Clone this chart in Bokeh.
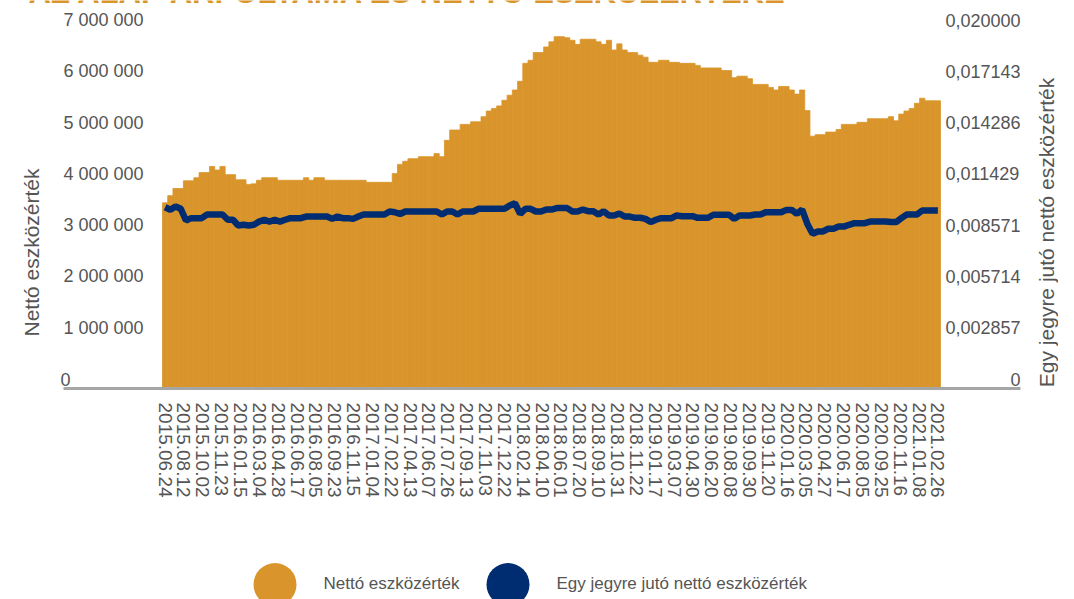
from math import pi
from bokeh.plotting import figure
from bokeh.models import Range1d, LinearAxis, FixedTicker, Label
from bokeh.layouts import column
from bokeh.embed import file_html
from bokeh.resources import INLINE
from bokeh.core.properties import value

# ---------------- data ----------------
date_labels = [
    "2015.06.24", "2015.08.12", "2015.10.02", "2015.11.23", "2016.01.15", "2016.03.04",
    "2016.04.28", "2016.06.17", "2016.08.05", "2016.09.23", "2016.11.15", "2017.01.04",
    "2017.02.22", "2017.04.13", "2017.06.07", "2017.07.26", "2017.09.13", "2017.11.03",
    "2017.12.22", "2018.02.14", "2018.04.10", "2018.06.01", "2018.07.20", "2018.09.10",
    "2018.10.31", "2018.11.22", "2019.01.17", "2019.03.07", "2019.04.30", "2019.06.20",
    "2019.08.08", "2019.09.30", "2019.11.20", "2020.01.16", "2020.03.05", "2020.04.27",
    "2020.06.17", "2020.08.05", "2020.09.25", "2020.11.16", "2021.01.08", "2021.02.26",
]

# Nettó eszközérték, millions
net_assets_m = [
    3.62, 3.76, 3.90, 3.90, 4.05, 4.05, 4.11, 4.21, 4.21, 4.33,
    4.26, 4.33, 4.17, 4.17, 4.07, 4.07, 3.98, 3.99, 4.06, 4.11,
    4.11, 4.11, 4.06, 4.06, 4.06, 4.06, 4.06, 4.11, 4.06, 4.11,
    4.11, 4.06, 4.06, 4.06, 4.06, 4.06, 4.06, 4.06, 4.06, 4.02,
    4.02, 4.02, 4.02, 4.02, 4.19, 4.37, 4.43, 4.48, 4.48,
    4.52, 4.52, 4.52, 4.58, 4.52, 4.84, 5.04, 5.04, 5.15, 5.15,
    5.20, 5.20, 5.30, 5.41, 5.46, 5.51, 5.62, 5.72, 5.82, 5.99,
    6.34, 6.40, 6.55, 6.55, 6.66, 6.76, 6.86, 6.86, 6.84, 6.79,
    6.71, 6.81, 6.81, 6.81, 6.76, 6.71, 6.79, 6.60, 6.72, 6.60,
    6.55, 6.55, 6.50, 6.46, 6.36, 6.36, 6.40, 6.40, 6.36, 6.36,
    6.34, 6.34, 6.34, 6.30, 6.25, 6.25, 6.25, 6.25, 6.20, 6.20,
    6.06, 6.09, 6.09, 6.04, 5.93, 5.93, 5.93, 5.87, 5.82, 5.89,
    5.89, 5.82, 5.74, 5.82, 5.42, 4.92, 4.95, 4.95, 5.00, 5.00,
    5.05, 5.15, 5.15, 5.15, 5.19, 5.19, 5.26, 5.26, 5.26, 5.26,
    5.30, 5.22, 5.35, 5.41, 5.46, 5.56, 5.66, 5.61, 5.61, 5.61,
]
net_assets = [v * 1_000_000 for v in net_assets_m]

# Egy jegyre jutó nettó eszközérték
unit_price = [
    0.01010, 0.00996, 0.01014, 0.01001, 0.00936, 0.00949, 0.00949, 0.00949, 0.00969, 0.00969,
    0.00969, 0.00969, 0.00940, 0.00940, 0.00908, 0.00912, 0.00908, 0.00912, 0.00930, 0.00940,
    0.00930, 0.00940, 0.00930, 0.00940, 0.00949, 0.00949, 0.00949, 0.00958, 0.00958, 0.00958,
    0.00958, 0.00958, 0.00945, 0.00958, 0.00949, 0.00949, 0.00945, 0.00958, 0.00969, 0.00969,
    0.00969, 0.00969, 0.00969, 0.00986, 0.00982, 0.00972, 0.00986, 0.00986, 0.00986,
    0.00986, 0.00986, 0.00986, 0.00986, 0.00969, 0.00986, 0.00986, 0.00969, 0.00986, 0.00986,
    0.00986, 0.01001, 0.01001, 0.01001, 0.01001, 0.01001, 0.01001, 0.01019, 0.01032, 0.00973,
    0.01001, 0.01001, 0.00986, 0.00986, 0.00997, 0.00997, 0.01005, 0.01005, 0.01005, 0.00986,
    0.00986, 0.00997, 0.00988, 0.00988, 0.00969, 0.00988, 0.00964, 0.00964, 0.00975, 0.00958,
    0.00958, 0.00951, 0.00951, 0.00945, 0.00927, 0.00940, 0.00949, 0.00949, 0.00949, 0.00964,
    0.00960, 0.00960, 0.00960, 0.00951, 0.00951, 0.00951, 0.00968, 0.00968, 0.00968, 0.00968,
    0.00945, 0.00964, 0.00964, 0.00964, 0.00969, 0.00969, 0.00982, 0.00982, 0.00982, 0.00982,
    0.00995, 0.00995, 0.00973, 0.00997, 0.00917, 0.00862, 0.00875, 0.00875, 0.00890, 0.00890,
    0.00902, 0.00902, 0.00912, 0.00921, 0.00921, 0.00921, 0.00930, 0.00930, 0.00930, 0.00930,
    0.00927, 0.00927, 0.00949, 0.00969, 0.00969, 0.00969, 0.00992, 0.00992, 0.00992, 0.00992,
]

left_tick_labels = ["0", "1 000 000", "2 000 000", "3 000 000", "4 000 000",
                    "5 000 000", "6 000 000", "7 000 000"]
right_tick_labels = ["0", "0,002857", "0,005714", "0,008571", "0,011429",
                     "0,014286", "0,017143", "0,020000"]
left_max = 7_000_000
right_max = 0.02

title_text = "AZ ALAP ÁRFOLYAMA ÉS NETTÓ ESZKÖZÉRTÉKE"
left_title = "Nettó eszközérték"
right_title = "Egy jegyre jutó nettó eszközérték"

# ---------------- styling / layout (page pixels) ----------------
ORANGE = "#D9952B"
NAVY = "#002D72"
TXT = "#555555"
AXIS_GRAY = "#A6A6A6"
FONT = "Liberation Sans"

W = 1058
H1 = 500
H2 = 99
FRAME_H = 388                 # zero line
BARS_L, BARS_R = 162, 940     # horizontal extent of the bar block
AXIS_L, AXIS_R = 63, 1020     # extent of the grey category axis line
TOP_VAL_PX = 359              # px from zero line to the top tick
LABEL_LIFT_PX = 9.5           # tick labels sit above their grid line

N = len(net_assets)
idx = list(range(N))
px_per_unit = (BARS_R - BARS_L) / N
x_start = -0.5 - BARS_L / px_per_unit
x_end = N - 0.5 + (W - BARS_R) / px_per_unit

n_steps = len(left_tick_labels) - 1
scale = FRAME_H / TOP_VAL_PX
lift = LABEL_LIFT_PX / TOP_VAL_PX * n_steps

p = figure(width=W, height=H1,
           x_range=Range1d(x_start, x_end),
           y_range=Range1d(0, left_max * scale),
           output_backend="svg", toolbar_location=None,
           x_axis_location=None, y_axis_location=None,
           min_border_left=0, min_border_right=0,
           min_border_top=0, min_border_bottom=H1 - FRAME_H)
p.outline_line_color = None
p.grid.visible = False
p.background_fill_color = "white"
p.border_fill_color = "white"

nL = len(date_labels)
lab_factor = (nL - 1) / (N - 1)
p.extra_x_ranges = {"xlab": Range1d(x_start * lab_factor, x_end * lab_factor)}
p.extra_y_ranges = {
    "price": Range1d(0, right_max * scale),
    "ylab": Range1d(-lift, n_steps * scale - lift),
}

# bars (net asset value) and line (unit price)
p.vbar(x=idx, top=net_assets, bottom=0, width=1.0,
       fill_color=ORANGE, line_color=ORANGE, line_width=0.8)
p.line(x=idx, y=unit_price, y_range_name="price",
       line_color=NAVY, line_width=6.5)

# category (date) axis
ax_l = (x_start + AXIS_L / px_per_unit) * lab_factor
ax_r = (x_start + AXIS_R / px_per_unit) * lab_factor
xaxis = LinearAxis(x_range_name="xlab", bounds=(ax_l, ax_r),
                   ticker=FixedTicker(ticks=list(range(nL)), minor_ticks=[]),
                   major_label_overrides={k: s for k, s in enumerate(date_labels)},
                   major_label_orientation="vertical")
xaxis.axis_line_color = AXIS_GRAY
xaxis.axis_line_width = 3
xaxis.major_tick_line_color = None
xaxis.minor_tick_line_color = None
xaxis.major_label_standoff = 8
xaxis.major_label_text_font = FONT
xaxis.major_label_text_font_size = "19px"
xaxis.major_label_text_color = TXT
p.add_layout(xaxis, "below")

def value_axis(labels, ticks, loc, standoff):
    ax = LinearAxis(y_range_name="ylab", fixed_location=loc,
                    ticker=FixedTicker(ticks=ticks, minor_ticks=[]),
                    major_label_overrides={k: labels[k] for k in ticks})
    ax.axis_line_color = None
    ax.major_tick_line_color = None
    ax.minor_tick_line_color = None
    ax.major_tick_out = 0
    ax.major_label_standoff = standoff
    ax.major_label_text_font = FONT
    ax.major_label_text_font_size = "18px"
    ax.major_label_text_color = TXT
    return ax

nonzero = list(range(1, len(left_tick_labels)))
# left labels are left-aligned at the axis-line start, right labels right-aligned
p.add_layout(value_axis(left_tick_labels, nonzero, -0.5, 19), "left")
p.add_layout(value_axis(left_tick_labels, [0], -0.5, 92), "left")
p.add_layout(value_axis(right_tick_labels, nonzero, N - 0.5, 5), "right")
p.add_layout(value_axis(right_tick_labels, [0], N - 0.5, 70), "right")

# titles (screen units relative to the frame: x from left, y from zero line)
p.add_layout(Label(x=28, y=FRAME_H + 8, x_units="screen", y_units="screen",
                   text=title_text, text_font=FONT, text_font_style="bold",
                   text_font_size="31px", text_color=ORANGE,
                   text_align="left", text_baseline="alphabetic"))
p.add_layout(Label(x=31, y=FRAME_H - 252, x_units="screen", y_units="screen",
                   text=left_title, angle=pi / 2, text_font=FONT,
                   text_font_size="21px", text_color=TXT,
                   text_align="center", text_baseline="middle"))
p.add_layout(Label(x=1046, y=FRAME_H - 232, x_units="screen", y_units="screen",
                   text=right_title, angle=pi / 2, text_font=FONT,
                   text_font_size="21px", text_color=TXT,
                   text_align="center", text_baseline="middle"))

# legend strip
lg = figure(width=W, height=H2, x_range=Range1d(0, W), y_range=Range1d(H2, 0),
            output_backend="svg", toolbar_location=None,
            x_axis_location=None, y_axis_location=None, min_border=0)
lg.outline_line_color = None
lg.grid.visible = False
lg.ellipse(x=[274.5, 507.5], y=[84, 84], width=43, height=43,
           fill_color=[ORANGE, NAVY], line_color=None)
lg.text(x=[323, 556], y=[83, 83], text=[left_title, right_title],
        text_font=value(FONT), text_font_size="17px", text_color=TXT,
        text_baseline="middle", text_align="left")

layout = column(p, lg, spacing=0)
open("out.html", "w").write(file_html(layout, INLINE))
